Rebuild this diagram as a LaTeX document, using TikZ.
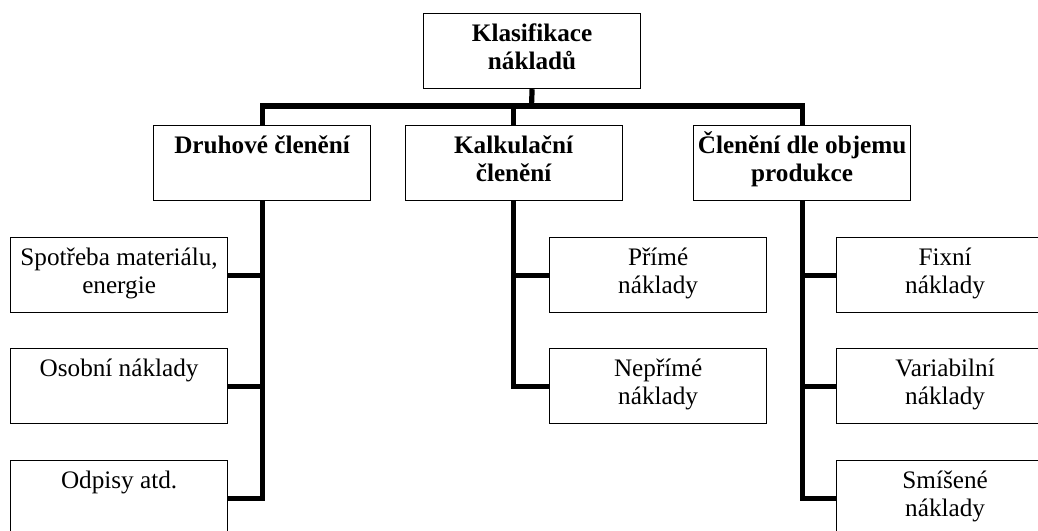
\documentclass[tikz,border=0pt]{standalone}
\usepackage{fontspec}
\setmainfont{Liberation Serif}
\newcommand{\celltext}[1]{\parbox[c][37.5pt][t]{106pt}{\centering\rule{0pt}{13.8pt}#1}}
\tikzset{
  box/.style={draw, line width=0.6pt, anchor=north west, inner sep=0pt,
    minimum width=108.5pt, minimum height=37.5pt,
    font=\fontsize{12.6}{14.2}\selectfont},
  head/.style={box, font=\fontsize{12.6}{14.2}\selectfont\bfseries},
  link/.style={line width=2.6pt}
}
\begin{document}
\begin{tikzpicture}[x=0.5pt,y=-0.5pt]
  \useasboundingbox (0,0) rectangle (1038,530);
  \clip (0,0) rectangle (1038,530);
  % top and second level
  \node[head] (klas) at (423,13) {\celltext{Klasifikace\\nákladů}};
  \node[head] (druh) at (153,125) {\celltext{Druhové členění}};
  \node[head] (kalk) at (404.5,125) {\celltext{Kalkulační\\členění}};
  \node[head] (objem) at (693,125) {\celltext{Členění dle objemu\\produkce}};
  % third level
  \node[box] (spot) at (10,237) {\celltext{Spotřeba materiálu,\\energie}};
  \node[box] (osob) at (10,348) {\celltext{Osobní náklady}};
  \node[box] (odp) at (10,460) {\celltext{Odpisy atd.}};
  \node[box] (prime) at (549,237) {\celltext{Přímé\\náklady}};
  \node[box] (neprime) at (549,348) {\celltext{Nepřímé\\náklady}};
  \node[box] (fix) at (836,237) {\celltext{Fixní\\náklady}};
  \node[box] (var) at (836,348) {\celltext{Variabilní\\náklady}};
  \node[box] (smis) at (836,460) {\celltext{Smíšené\\náklady}};
  \coordinate (bus) at (531.5,106);
  \begin{scope}[link]
    \draw (klas.south) -- (bus);
    \draw (druh.north) |- (bus) -| (objem.north);
    \draw (bus) -| (kalk.north);
    \draw (druh.south) |- (spot.east);
    \draw (druh.south) |- (osob.east);
    \draw (druh.south) |- (odp.east);
    \draw (kalk.south) |- (prime.west);
    \draw (kalk.south) |- (neprime.west);
    \draw (objem.south) |- (fix.west);
    \draw (objem.south) |- (var.west);
    \draw (objem.south) |- (smis.west);
  \end{scope}
\end{tikzpicture}
\end{document}
